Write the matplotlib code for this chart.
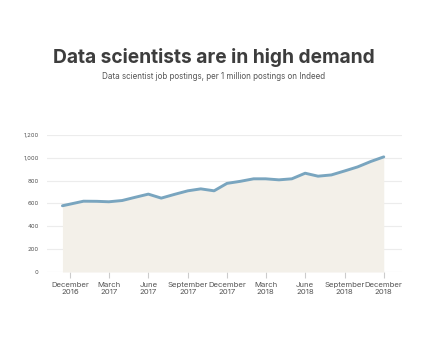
import numpy as np
import pandas as pd
import matplotlib
matplotlib.use("Agg")
import matplotlib.pyplot as plt
from matplotlib.ticker import FuncFormatter

plt.rcParams['font.family'] = ['Inter', 'DejaVu Sans']

# job postings per 1 million postings on Indeed
dates = pd.to_datetime([
    "2016-11-13", "2017-01-01", "2017-02-01", "2017-03-01", "2017-04-01",
    "2017-05-01", "2017-06-01", "2017-07-01", "2017-08-01", "2017-09-01",
    "2017-10-01", "2017-11-01", "2017-12-01", "2018-01-01", "2018-02-01",
    "2018-03-01", "2018-04-01", "2018-05-01", "2018-06-01", "2018-07-01",
    "2018-08-01", "2018-09-01", "2018-10-01", "2018-11-01", "2018-12-01",
])
postings = [580, 620, 619, 615, 626, 654, 682, 647, 680, 711, 728, 711, 776,
            794, 816, 816, 807, 816, 865, 839, 850, 885, 920, 968, 1008]

tick_dates = pd.to_datetime(["2016-12-01", "2017-03-01", "2017-06-01", "2017-09-01",
                             "2017-12-01", "2018-03-01", "2018-06-01", "2018-09-01",
                             "2018-12-01"])
tick_labels = ["December\n2016", "March\n2017", "June\n2017", "September\n2017",
               "December\n2017", "March\n2018", "June\n2018", "September\n2018",
               "December\n2018"]

fig = plt.figure(figsize=(4.27, 3.57), dpi=100)
ax = fig.add_axes([0.110, 0.238, 0.831, 0.384])

ax.fill_between(dates, postings, 0, color="#f3f0e9", lw=0)
ax.plot(dates, postings, color="#79a5bf", lw=2.1, solid_capstyle="round", solid_joinstyle="round")

ax.set_ylim(0, 1200)
ax.set_xlim(pd.Timestamp("2016-10-08"), pd.Timestamp("2019-01-12"))
ax.set_yticks(np.arange(0, 1201, 200))
ax.yaxis.set_major_formatter(FuncFormatter(lambda v, p: f"{int(v):,}"))
ax.grid(axis="y", color="#ececec", lw=0.8)
ax.set_axisbelow(True)
for s in ax.spines.values():
    s.set_visible(False)

ax.set_xticks(tick_dates)
ax.set_xticklabels(tick_labels, linespacing=1.3)
ax.tick_params(axis="x", length=4, color="#cccccc", labelsize=5.6, labelcolor="#555555", pad=3)
ax.tick_params(axis="y", length=0, labelsize=4.3, labelcolor="#555555", pad=6)

fig.text(0.5, 0.84, "Data scientists are in high demand", ha="center", va="center",
         fontsize=13.8, fontweight="bold", color="#3d3d3d")
fig.text(0.5, 0.785, "Data scientist job postings, per 1 million postings on Indeed",
         ha="center", va="center", fontsize=5.8, color="#555555")

fig.savefig("out.png", dpi=100, facecolor="white")
